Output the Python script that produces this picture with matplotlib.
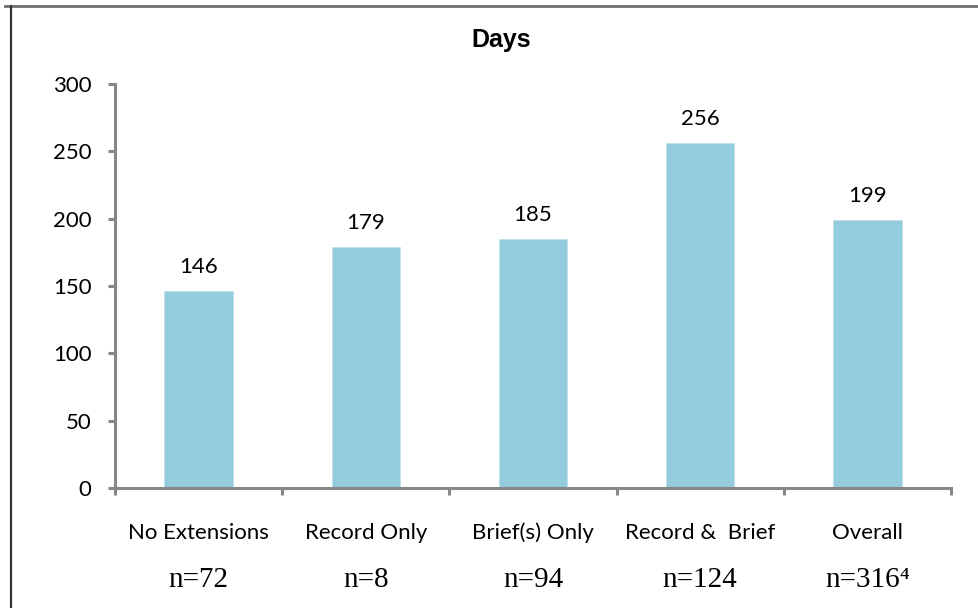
import matplotlib.pyplot as plt
from matplotlib.lines import Line2D

categories = ['No Extensions', 'Record Only', 'Brief(s) Only', 'Record &  Brief', 'Overall']
counts = ['n=72', 'n=8', 'n=94', 'n=124', 'n=316\u2074']
days = [146, 179, 185, 256, 199]
yticks = [0, 50, 100, 150, 200, 250, 300]

axis_grey = '#878787'
bar_blue = '#94CCDD'
label_font = 'Lato'

fig = plt.figure(figsize=(9.79, 6.08), dpi=100)
ax = fig.add_axes([0.1175, 0.1974, 0.8539, 0.6644])

x = range(len(days))
ax.bar(x, days, width=0.41, color=bar_blue, edgecolor='#BFE0EA', linewidth=0.6)

for xi, v in zip(x, days):
    ax.annotate(str(v), (xi, v), xytext=(0, 13), textcoords='offset points',
                ha='center', va='baseline', fontsize=16, family=label_font)

ax.set_xlim(-0.5, len(days) - 0.5)
ax.set_ylim(0, 300)
ax.set_yticks(yticks)
ax.set_yticklabels([str(t) for t in yticks], fontsize=16, family=label_font)

# category ticks sit between the bars
ax.set_xticks([i - 0.5 for i in range(len(days) + 1)])
ax.set_xticklabels([])
ax.tick_params(axis='x', length=5, width=2.2, color=axis_grey)
ax.tick_params(axis='y', length=5, width=2.2, color=axis_grey, pad=12)

for side in ['top', 'right']:
    ax.spines[side].set_visible(False)
for side in ['left', 'bottom']:
    ax.spines[side].set_color(axis_grey)
    ax.spines[side].set_linewidth(2.2)

# two rows under each bar: category name, then sample size
for xi, name, n in zip(x, categories, counts):
    ax.text(xi, -0.126, name, transform=ax.get_xaxis_transform(), ha='center', va='baseline',
            fontsize=16, family=label_font)
    ax.text(xi, -0.245, n, transform=ax.get_xaxis_transform(), ha='center', va='baseline',
            fontsize=21, family='Liberation Serif')

fig.text(0.512, 1 - 47 / 608, 'Days', ha='center', va='baseline', fontsize=18,
         fontweight='bold', family='Liberation Sans')

# outer frame: grey rule along the top, dark rule down the left
fig.add_artist(Line2D([5 / 979, 1], [1 - 6 / 608, 1 - 6 / 608], transform=fig.transFigure,
                      color='#6E6E6E', linewidth=2))
fig.add_artist(Line2D([11 / 979, 11 / 979], [0, 1 - 6 / 608], transform=fig.transFigure,
                      color='#333333', linewidth=1.6))

fig.savefig('out.png', dpi=100)
